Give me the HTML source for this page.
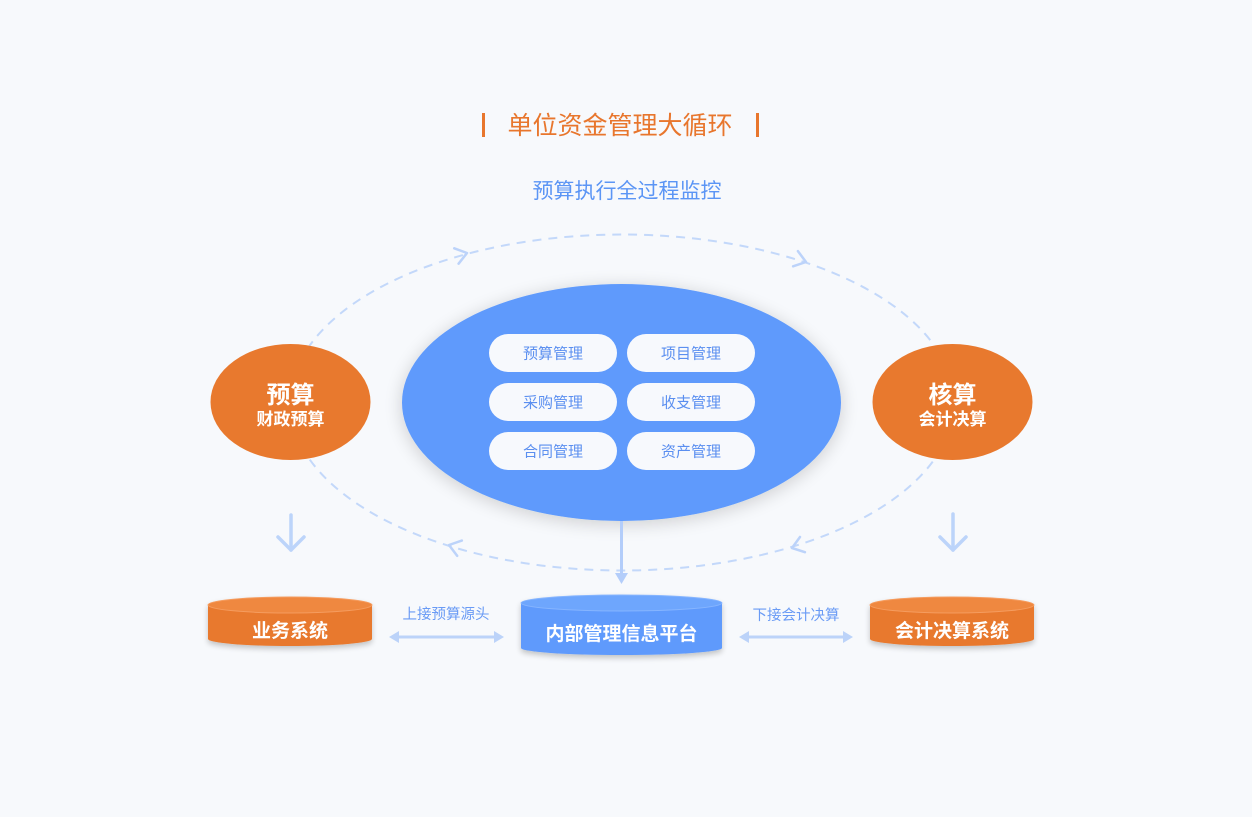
<!DOCTYPE html>
<html>
<head>
<meta charset="utf-8">
<style>
html,body{margin:0;padding:0;background:#f7f9fc;}
body{width:1252px;height:817px;overflow:hidden;}
svg{display:block;}
text{font-family:"Liberation Sans","Noto Sans CJK SC",sans-serif;}
</style>
</head>
<body>
<svg width="1252" height="817" viewBox="0 0 1252 817" xmlns="http://www.w3.org/2000/svg">
<defs>
  <filter id="sh" x="-20%" y="-20%" width="140%" height="140%">
    <feGaussianBlur in="SourceAlpha" stdDeviation="9"/>
    <feOffset dx="0" dy="3"/>
    <feComponentTransfer><feFuncA type="linear" slope="0.18"/></feComponentTransfer>
    <feMerge><feMergeNode/><feMergeNode in="SourceGraphic"/></feMerge>
  </filter>
  <filter id="csh" x="-10%" y="-30%" width="120%" height="170%">
    <feGaussianBlur in="SourceAlpha" stdDeviation="3"/>
    <feOffset dx="0" dy="3"/>
    <feComponentTransfer><feFuncA type="linear" slope="0.22"/></feComponentTransfer>
    <feMerge><feMergeNode/><feMergeNode in="SourceGraphic"/></feMerge>
  </filter>
</defs>
<rect width="1252" height="817" fill="#f7f9fc"/>

<!-- Title -->
<rect x="482" y="113" width="3" height="24" fill="#e8762d"/>
<rect x="756" y="113" width="3" height="24" fill="#e8762d"/>
<text x="620" y="134" font-size="25" fill="#e8762d" text-anchor="middle">单位资金管理大循环</text>
<text x="627" y="198" font-size="21" fill="#5b95f5" text-anchor="middle">预算执行全过程监控</text>

<!-- dashed ellipse -->
<ellipse cx="622" cy="402.5" rx="332" ry="168" fill="none" stroke="#c3d8fa" stroke-width="2" stroke-dasharray="9 7"/>
<g fill="none" stroke="#bcd3fa" stroke-width="2.5" stroke-linecap="round" stroke-linejoin="round">
  <path d="M-11,-8 L0,0 L-11,8" transform="translate(467,253) rotate(-15.8)"/>
  <path d="M-11,-8 L0,0 L-11,8" transform="translate(806,262) rotate(17.4)"/>
  <path d="M-11,-8 L0,0 L-11,8" transform="translate(792,548) rotate(162)"/>
  <path d="M-11,-8 L0,0 L-11,8" transform="translate(449,545) rotate(196.8)"/>
</g>

<!-- central ellipse -->
<ellipse cx="621.5" cy="402.5" rx="219.5" ry="118.5" fill="#5f9afc" filter="url(#sh)"/>
<g fill="#f7f9fd">
  <rect x="489" y="334" width="128" height="38" rx="19"/>
  <rect x="627" y="334" width="128" height="38" rx="19"/>
  <rect x="489" y="383" width="128" height="38" rx="19"/>
  <rect x="627" y="383" width="128" height="38" rx="19"/>
  <rect x="489" y="432" width="128" height="38" rx="19"/>
  <rect x="627" y="432" width="128" height="38" rx="19"/>
</g>
<g font-size="15" fill="#5b8ff0" text-anchor="middle">
  <text x="553" y="358.5">预算管理</text>
  <text x="691" y="358.5">项目管理</text>
  <text x="553" y="407.5">采购管理</text>
  <text x="691" y="407.5">收支管理</text>
  <text x="553" y="456.5">合同管理</text>
  <text x="691" y="456.5">资产管理</text>
</g>

<!-- vertical connector -->
<line x1="621.5" y1="521" x2="621.5" y2="575" stroke="#b3cdfa" stroke-width="3"/>
<path d="M615,573 L628,573 L621.5,584 Z" fill="#b3cdfa"/>

<!-- orange ellipses -->
<ellipse cx="290.5" cy="402" rx="80" ry="58" fill="#e8792e"/>
<text x="290.5" y="403" font-size="24" font-weight="bold" fill="#fff" text-anchor="middle">预算</text>
<text x="290.5" y="425" font-size="17" font-weight="bold" fill="#fff" text-anchor="middle">财政预算</text>
<ellipse cx="952.5" cy="402" rx="80" ry="58" fill="#e8792e"/>
<text x="952.5" y="403" font-size="24" font-weight="bold" fill="#fff" text-anchor="middle">核算</text>
<text x="952.5" y="425" font-size="17" font-weight="bold" fill="#fff" text-anchor="middle">会计决算</text>

<!-- down arrows -->
<g fill="none" stroke="#bcd4fa" stroke-width="3.5" stroke-linecap="round" stroke-linejoin="round">
  <line x1="291" y1="515" x2="291" y2="550"/>
  <path d="M278,537 L291,550 L304,537"/>
  <line x1="953" y1="514" x2="953" y2="550"/>
  <path d="M940,537 L953,550 L966,537"/>
</g>

<!-- left cylinder -->
<g filter="url(#csh)">
  <path d="M208,605 L208,639 A82,7 0 0 0 372,639 L372,605 Z" fill="#e8792e"/>
  <ellipse cx="290" cy="605" rx="82" ry="8" fill="#ef8840" stroke="#f59c5e" stroke-width="1"/>
</g>
<text x="290" y="637" font-size="19" font-weight="bold" fill="#fff" text-anchor="middle">业务系统</text>

<!-- center cylinder -->
<g filter="url(#csh)">
  <path d="M521,603 L521,648 A100.5,7 0 0 0 722,648 L722,603 Z" fill="#5f9afc"/>
  <ellipse cx="621.5" cy="603" rx="100.5" ry="8" fill="#6ea6fd" stroke="#86b5ff" stroke-width="1"/>
</g>
<text x="621.5" y="640" font-size="19" font-weight="bold" fill="#fff" text-anchor="middle">内部管理信息平台</text>

<!-- right cylinder -->
<g filter="url(#csh)">
  <path d="M870,605 L870,639 A82,7 0 0 0 1034,639 L1034,605 Z" fill="#e8792e"/>
  <ellipse cx="952" cy="605" rx="82" ry="8" fill="#ef8840" stroke="#f59c5e" stroke-width="1"/>
</g>
<text x="952" y="637" font-size="19" font-weight="bold" fill="#fff" text-anchor="middle">会计决算系统</text>

<!-- double arrows -->
<g stroke="#bcd3f9" stroke-width="3">
  <line x1="396" y1="637" x2="497" y2="637"/>
  <line x1="746" y1="637" x2="846" y2="637"/>
</g>
<g fill="#bcd3f9">
  <path d="M389,637 L399,631 L399,643 Z"/>
  <path d="M504,637 L494,631 L494,643 Z"/>
  <path d="M739,637 L749,631 L749,643 Z"/>
  <path d="M853,637 L843,631 L843,643 Z"/>
</g>
<text x="446" y="619" font-size="14.5" fill="#6a9bf5" text-anchor="middle">上接预算源头</text>
<text x="796" y="620" font-size="14.5" fill="#6a9bf5" text-anchor="middle">下接会计决算</text>
</svg>
</body>
</html>
